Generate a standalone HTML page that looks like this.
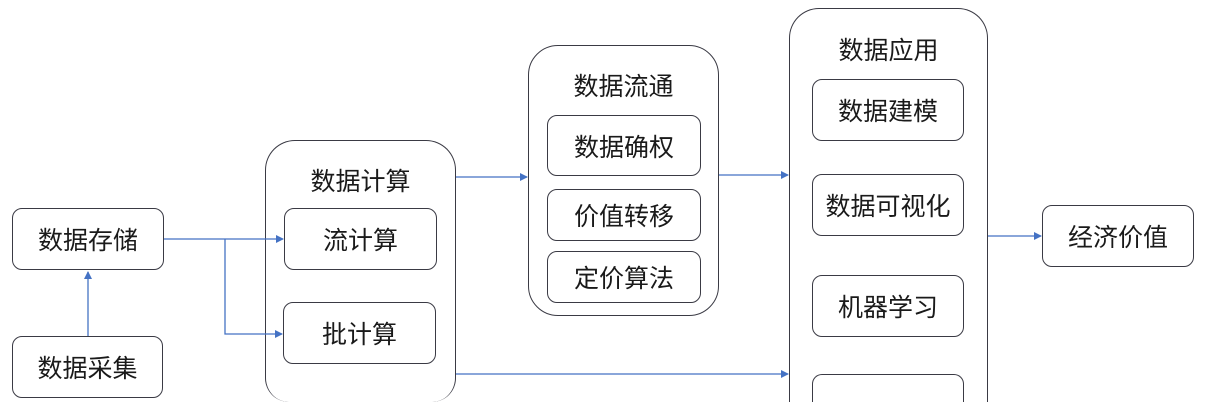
<!DOCTYPE html>
<html style="width:1210px;height:402px;overflow:hidden;margin:0"><head><meta charset="utf-8"><style>
body{margin:0;width:1210px;height:402px;background:#fff;position:relative;overflow:hidden;font-family:"Liberation Sans","Noto Sans CJK SC",sans-serif;color:#1a1a1a}
.b{position:absolute;box-sizing:border-box;border:1.5px solid #3a3a44;border-radius:10px;display:flex;align-items:center;justify-content:center;font-size:25px;background:#fff;white-space:nowrap}
.o{position:absolute;box-sizing:border-box;border:1.5px solid #3a3a44;border-radius:30px;background:#fff}
.cut{border-bottom:none;border-bottom-left-radius:0;border-bottom-right-radius:0}
.t{position:absolute;font-size:25px;text-align:center;width:100%;}
svg{position:absolute;left:0;top:0}
</style></head><body>
<div class="o cut" style="left:265px;top:140px;width:191px;height:262px;border-bottom-left-radius:24px;border-bottom-right-radius:24px"><div class="t" style="top:21px">数据计算</div></div>
<div class="o" style="left:528px;top:45px;width:191px;height:271px"><div class="t" style="top:21px">数据流通</div></div>
<div class="o cut" style="left:789px;top:8px;width:199px;height:394px"><div class="t" style="top:22px">数据应用</div></div>

<div class="b" style="left:12px;top:208px;width:152px;height:62px">数据存储</div>
<div class="b" style="left:12px;top:336px;width:151px;height:62px">数据采集</div>
<div class="b" style="left:284px;top:208px;width:153px;height:62px">流计算</div>
<div class="b" style="left:283px;top:302px;width:153px;height:62px">批计算</div>
<div class="b" style="left:547px;top:115px;width:154px;height:61px">数据确权</div>
<div class="b" style="left:547px;top:189px;width:154px;height:52px">价值转移</div>
<div class="b" style="left:547px;top:251px;width:154px;height:52px">定价算法</div>
<div class="b" style="left:812px;top:79px;width:152px;height:62px">数据建模</div>
<div class="b" style="left:812px;top:174px;width:152px;height:62px">数据可视化</div>
<div class="b" style="left:812px;top:275px;width:152px;height:62px">机器学习</div>
<div class="b cut" style="left:812px;top:374px;width:152px;height:28px"></div>
<div class="b" style="left:1042px;top:205px;width:152px;height:62px">经济价值</div>

<svg width="1210" height="402">
<defs><marker id="a" markerWidth="8" markerHeight="8" refX="7" refY="4" orient="auto" markerUnits="userSpaceOnUse"><path d="M0,0 L8,4 L0,8 z" fill="#4472c4"/></marker></defs>
<g stroke="#4472c4" stroke-width="1.3" fill="none">
<line x1="88" y1="336" x2="88" y2="272" marker-end="url(#a)"/>
<line x1="164" y1="239" x2="283" y2="239" marker-end="url(#a)"/>
<polyline points="225,239 225,334 282,334" marker-end="url(#a)"/>
<line x1="456" y1="177" x2="527" y2="177" marker-end="url(#a)"/>
<line x1="719" y1="175" x2="788" y2="175" marker-end="url(#a)"/>
<line x1="456" y1="374" x2="788" y2="374" marker-end="url(#a)"/>
<line x1="988" y1="236" x2="1041" y2="236" marker-end="url(#a)"/>
</g></svg>
</body></html>
